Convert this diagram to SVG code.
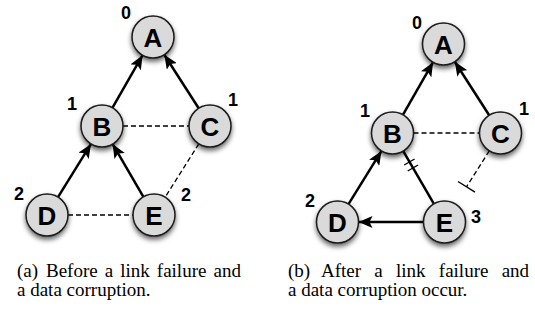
<svg xmlns="http://www.w3.org/2000/svg" width="535" height="329" viewBox="0 0 535 329">
<style>
.node circle{fill:#dadada;stroke:#1a1a1a;stroke-width:1.5;filter:url(#sh)}
.node text{font-family:"Liberation Sans",Arial,sans-serif;font-weight:bold;font-size:26px;text-anchor:middle;fill:#000}
.lbl{font-family:"Liberation Sans",Arial,sans-serif;font-weight:bold;font-size:18px;text-anchor:middle;fill:#000}
.arr{stroke:#000;stroke-width:2.5;fill:none;marker-end:url(#ah)}
.sol{stroke:#000;stroke-width:2.5;fill:none}
.dash{stroke:#000;stroke-width:1.3;fill:none;stroke-dasharray:5 3}
.tick{stroke:#000;stroke-width:1.4;fill:none}
.cap{font-family:"Liberation Serif","Times New Roman",serif;font-size:19px;fill:#000}
</style>
<defs>
<filter id="sh" x="-50%" y="-50%" width="200%" height="200%">
<feDropShadow dx="0" dy="3" stdDeviation="2.5" flood-color="#000" flood-opacity="0.6"/>
</filter>
<marker id="ah" markerUnits="userSpaceOnUse" markerWidth="16" markerHeight="12" refX="14" refY="6" orient="auto">
<path d="M0,0 L14,6 L0,12 L3,6 z" fill="#000"/>
</marker>
</defs>
<g id="connectors">
<line class="arr" x1="112.4" y1="107.8" x2="142.6" y2="55.2"/>
<line class="arr" x1="198.7" y1="108.3" x2="164.3" y2="54.7"/>
<line class="arr" x1="58" y1="197.1" x2="91" y2="143.9"/>
<line class="arr" x1="143.4" y1="196.9" x2="112.6" y2="143.9"/>
<line class="dash" x1="123" y1="126" x2="189" y2="126"/>
<line class="dash" x1="68" y1="215" x2="133" y2="215"/>
<line class="dash" x1="198.8" y1="143.8" x2="165.2" y2="197.2"/>
<line class="arr" x1="402.9" y1="114.8" x2="433.1" y2="62.2"/>
<line class="arr" x1="489.2" y1="115.3" x2="454.8" y2="61.7"/>
<line class="arr" x1="348.5" y1="204.1" x2="381.5" y2="150.9"/>
<line class="sol" x1="433.9" y1="203.9" x2="403.1" y2="150.9"/>
<line class="tick" x1="404.2" y1="165" x2="414.6" y2="159"/>
<line class="tick" x1="407.7" y1="171" x2="418.1" y2="165"/>
<line class="arr" x1="423.5" y1="222" x2="358.5" y2="222"/>
<line class="dash" x1="413.5" y1="133" x2="479.5" y2="133"/>
<line class="dash" x1="489.3" y1="150.8" x2="466.5" y2="186.8"/>
<line class="tick" x1="458" y1="181.5" x2="475" y2="192.1"/>
</g>
<g id="a-A" class="node"><circle cx="153" cy="37" r="21"/><text x="153" y="46.5">A</text></g>
<g id="a-B" class="node"><circle cx="102" cy="126" r="21"/><text x="102" y="135.5">B</text></g>
<g id="a-C" class="node"><circle cx="210" cy="126" r="21"/><text x="210" y="135.5">C</text></g>
<g id="a-D" class="node"><circle cx="47" cy="215" r="21"/><text x="47" y="224.5">D</text></g>
<g id="a-E" class="node"><circle cx="154" cy="215" r="21"/><text x="154" y="224.5">E</text></g>
<g id="b-A" class="node"><circle cx="443.5" cy="44" r="21"/><text x="443.5" y="53.5">A</text></g>
<g id="b-B" class="node"><circle cx="392.5" cy="133" r="21"/><text x="392.5" y="142.5">B</text></g>
<g id="b-C" class="node"><circle cx="500.5" cy="133" r="21"/><text x="500.5" y="142.5">C</text></g>
<g id="b-D" class="node"><circle cx="337.5" cy="222" r="21"/><text x="337.5" y="231.5">D</text></g>
<g id="b-E" class="node"><circle cx="444.5" cy="222" r="21"/><text x="444.5" y="231.5">E</text></g>
<g id="labels">
<text class="lbl" x="126" y="19">0</text>
<text class="lbl" x="72" y="110">1</text>
<text class="lbl" x="233" y="106">1</text>
<text class="lbl" x="19" y="200">2</text>
<text class="lbl" x="186" y="201">2</text>
<text class="lbl" x="417" y="29">0</text>
<text class="lbl" x="365" y="117">1</text>
<text class="lbl" x="524" y="115">1</text>
<text class="lbl" x="310" y="207">2</text>
<text class="lbl" x="476" y="223">3</text>
</g>
<g id="captions">
<text class="cap" x="17" y="277">(a)<tspan x="46" word-spacing="2.3">Before a link failure and</tspan></text>
<text class="cap" x="17" y="296">a data corruption.</text>
<text class="cap" x="288" y="277">(b)<tspan x="321" word-spacing="8.5">After a link failure and</tspan></text>
<text class="cap" x="288" y="296">a data corruption occur.</text>
</g>
</svg>
